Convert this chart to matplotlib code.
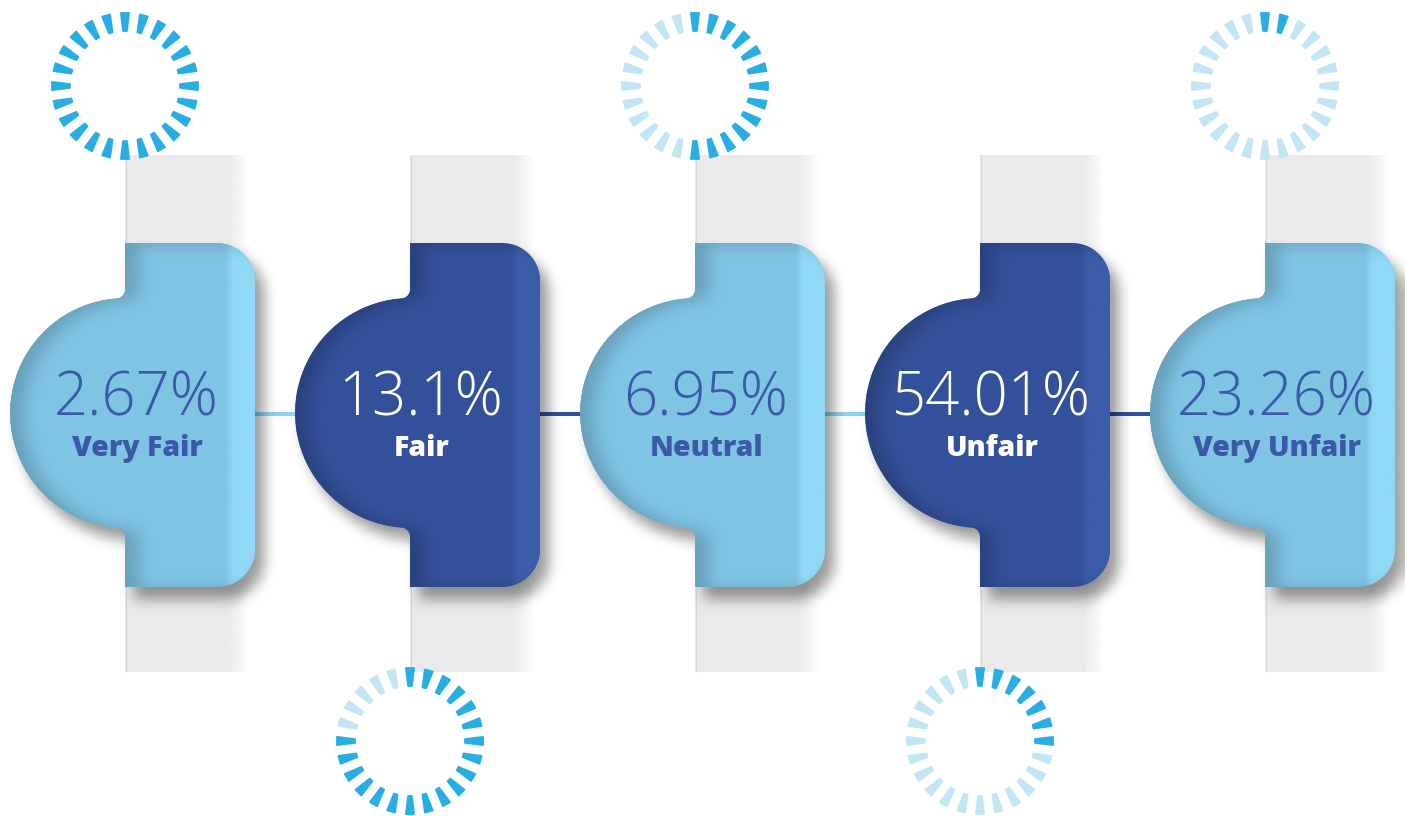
import numpy as np
import matplotlib
matplotlib.use("Agg")
import matplotlib.pyplot as plt
from matplotlib.path import Path
from matplotlib.patches import PathPatch, Rectangle, Polygon
from matplotlib.colors import to_rgb

# ---- data -------------------------------------------------------------
categories = ["Very Fair", "Fair", "Neutral", "Unfair", "Very Unfair"]
shares = [2.67, 13.1, 6.95, 54.01, 23.26]
# number of highlighted ticks on each decorative ring (out of 24)
ring_lit = [24, 19, 13, 7, 2]

# ---- layout / style ---------------------------------------------------
W, H = 1405, 816
STEP = 285
X_START = 125
RECT_W, RECT_TOP, RECT_BOT, CORNER = 130, 243, 587, 38
CY, RADIUS, FILLET = 413, 115, 9
STRIP_W, STRIP_TOP, STRIP_BOT = 104, 155, 672
N_TICKS = 24

LIGHT = "#80c4e4"
LIGHT_HI = "#90d9f6"
DARK = "#33509a"
DARK_HI = "#3b5daa"
TEXT_DARK = "#3a59a7"
RING_ON = "#29aee4"
RING_OFF = "#c3e6f5"
STRIP = "#eaeaec"

fill_colors = [LIGHT if i % 2 == 0 else DARK for i in range(len(shares))]
hi_colors = [LIGHT_HI if i % 2 == 0 else DARK_HI for i in range(len(shares))]
line_colors = ["#8dd3f1" if i % 2 == 0 else DARK for i in range(len(shares))]
text_colors = [TEXT_DARK if i % 2 == 0 else "white" for i in range(len(shares))]


def arc(cx, cy, r, t0, t1, n=40):
    t = np.radians(np.linspace(t0, t1, n))
    return np.column_stack([cx + r * np.cos(t), cy + r * np.sin(t)])


def badge_path(x0):
    """Rounded tab with a half-disc on its left side (y grows downward)."""
    xr = x0 + RECT_W
    yc = np.sqrt(RADIUS ** 2 - FILLET ** 2)
    t1 = np.degrees(np.arctan2(yc, -FILLET))
    parts = [
        np.array([[x0, RECT_TOP]]),
        arc(xr - CORNER, RECT_TOP + CORNER, CORNER, -90, 0),
        arc(xr - CORNER, RECT_BOT - CORNER, CORNER, 0, 90),
        np.array([[x0, RECT_BOT]]),
        arc(x0 - FILLET, CY + yc + FILLET, FILLET, 0, -90, 12),
        arc(x0, CY, RADIUS, t1, 360 - t1, 120),
        arc(x0 - FILLET, CY - yc - FILLET, FILLET, 90, 0, 12),
    ]
    verts = np.vstack(parts)
    verts = np.vstack([verts, verts[:1]])
    codes = [Path.MOVETO] + [Path.LINETO] * (len(verts) - 2) + [Path.CLOSEPOLY]
    return Path(verts, codes)


def blur1d(a, r, axis):
    pad = [(0, 0), (0, 0)]
    pad[axis] = (r + 1, r)
    p = np.pad(a, pad, mode="edge")
    c = np.cumsum(p, axis=axis)
    if axis == 0:
        return (c[2 * r + 1:] - c[:-2 * r - 1]) / (2 * r + 1)
    return (c[:, 2 * r + 1:] - c[:, :-2 * r - 1]) / (2 * r + 1)


def blur(a, r, passes=3):
    for _ in range(passes):
        a = blur1d(blur1d(a, r, 0), r, 1)
    return a


def shift(a, dx, dy):
    out = np.zeros_like(a)
    hh, ww = a.shape
    out[max(dy, 0):hh + min(dy, 0), max(dx, 0):ww + min(dx, 0)] = \
        a[max(-dy, 0):hh + min(-dy, 0), max(-dx, 0):ww + min(-dx, 0)]
    return out


fig = plt.figure(figsize=(W / 100, H / 100), dpi=100)
ax = fig.add_axes([0, 0, 1, 1])
ax.set_xlim(0, W)
ax.set_ylim(H, 0)
ax.axis("off")

xs = [X_START + STEP * i for i in range(len(shares))]
paths = [badge_path(x0) for x0 in xs]

# pixel grid for soft shading
gx, gy = np.meshgrid(np.arange(W) + 0.5, np.arange(H) + 0.5)
pts = np.column_stack([gx.ravel(), gy.ravel()])
mask = np.zeros((H, W))
for p in paths:
    mask = np.maximum(mask, p.contains_points(pts).reshape(H, W).astype(float))

# grey strips behind each tab
for x0 in xs:
    ax.add_patch(Rectangle((x0, STRIP_TOP), STRIP_W, STRIP_BOT - STRIP_TOP,
                           facecolor=STRIP, edgecolor="none", zorder=1))
    ax.plot([x0 + 0.6, x0 + 0.6], [STRIP_TOP, STRIP_BOT], color="#d6d6da",
            lw=0.8, zorder=1.2, solid_capstyle="butt")
    fade = np.linspace(0, 1, 64)[None, :] ** 1.2
    rgba = np.zeros((1, 64, 4))
    rgba[..., :3] = to_rgb(STRIP)
    rgba[..., 3] = 1 - fade
    ax.imshow(rgba, extent=(x0 + STRIP_W - 2, x0 + STRIP_W + 20, STRIP_BOT, STRIP_TOP),
              aspect="auto", zorder=1.1, interpolation="bilinear")

# connectors
for i, x0 in enumerate(xs[:-1]):
    ax.plot([x0 + RECT_W - 2, xs[i + 1] - RADIUS + 4], [CY + 1, CY + 1],
            color=line_colors[i], lw=2.9, zorder=2, solid_capstyle="butt")

# drop shadow
sh = blur(shift(mask, 9, 12), 6)
shadow = np.zeros((H, W, 4))
shadow[..., 3] = 0.40 * sh
ax.imshow(shadow, extent=(0, W, H, 0), zorder=3, interpolation="bilinear")

# tabs
patches = []
for i, (x0, p) in enumerate(zip(xs, paths)):
    patch = PathPatch(p, facecolor=fill_colors[i], edgecolor="none", zorder=4)
    ax.add_patch(patch)
    patches.append(patch)
    # lighter band along the right edge
    n = 200
    xx = np.linspace(x0 + RECT_W - 60, x0 + RECT_W + 2, n)
    ramp = np.clip((xx - (x0 + RECT_W - 30)) / 8, 0, 1)
    hi = np.zeros((1, n, 4))
    hi[..., :3] = to_rgb(hi_colors[i])
    hi[..., 3] = ramp
    im = ax.imshow(hi, extent=(xx[0], xx[-1], RECT_BOT, RECT_TOP), aspect="auto",
                   zorder=4.2, interpolation="bilinear")
    im.set_clip_path(patch)

# inner shade along left edges
inner = blur(shift(mask, 14, 2), 7)
shade = np.zeros((H, W, 4))
shade[..., 3] = 0.18 * (1 - inner) * mask
ax.imshow(shade, extent=(0, W, H, 0), zorder=4.5, interpolation="bilinear")

# decorative tick rings
R_IN, R_OUT, HW_IN, HW_OUT = 55, 73, 1.9, 4.1
for i, x0 in enumerate(xs):
    cy = 86 if i % 2 == 0 else 741
    for k in range(N_TICKS):
        th = np.radians(90 - 360 / N_TICKS * k)
        u = np.array([np.cos(th), -np.sin(th)])
        v = np.array([-u[1], u[0]])
        c = np.array([x0, cy])
        quad = [c + R_IN * u - HW_IN * v, c + R_OUT * u - HW_OUT * v,
                c + R_OUT * u + HW_OUT * v, c + R_IN * u + HW_IN * v]
        col = RING_ON if k < ring_lit[i] else RING_OFF
        ax.add_patch(Polygon(quad, closed=True, facecolor=col, edgecolor=col,
                             lw=1.3, joinstyle="round", zorder=6))

# labels
for i, x0 in enumerate(xs):
    ax.text(x0 + 11, 415, f"{shares[i]:g}%", ha="center", va="baseline",
            fontsize=43, family="Open Sans", fontweight=300,
            color=text_colors[i], zorder=7)
    ax.text(x0 + 12, 456, categories[i], ha="center", va="baseline",
            fontsize=20.5, family="Open Sans", fontweight=800,
            color=text_colors[i], zorder=7)

fig.savefig("out.png", dpi=100, facecolor="white")
